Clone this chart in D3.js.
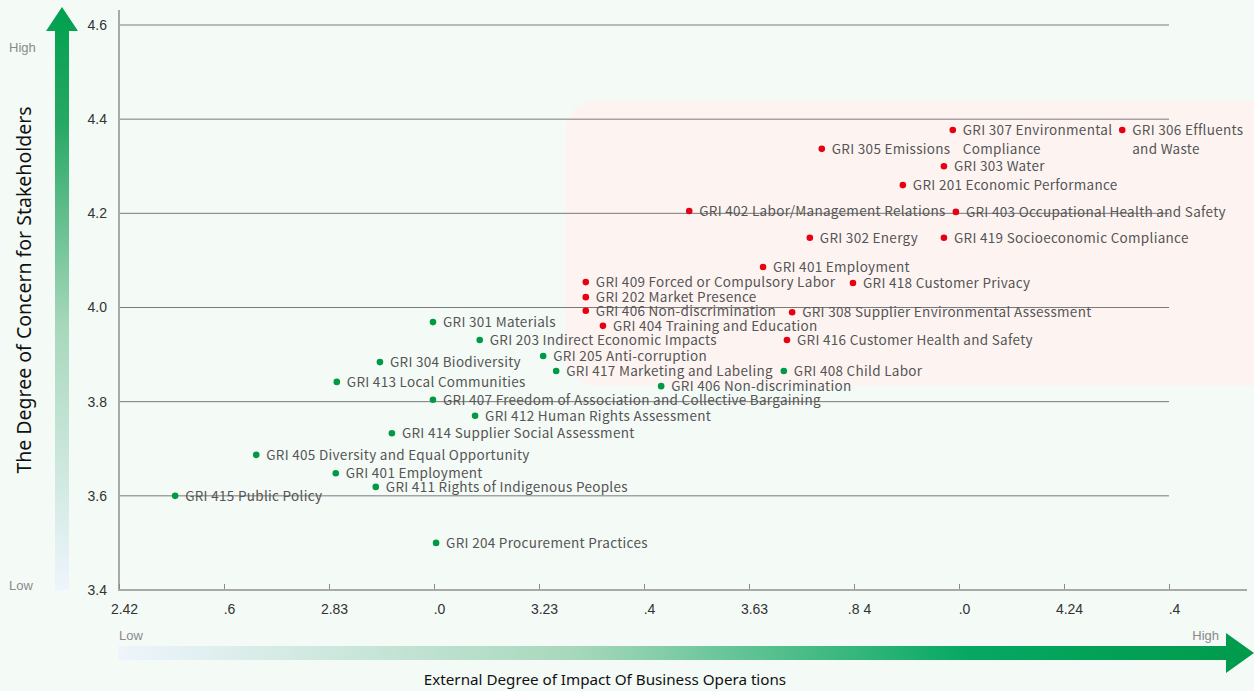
<!DOCTYPE html>
<html>
<head>
<meta charset="utf-8">
<script src="https://cdn.jsdelivr.net/npm/d3@7"></script>
<style>
  html, body { margin: 0; padding: 0; background: #f4faf6; }
  svg { display: block; }
</style>
</head>
<body>
<div id="chart"></div>
<script>
// x tick labels as printed on the original (truncated)
const xTickValues = [2.42, 2.622, 2.824, 3.026, 3.228, 3.43, 3.632, 3.834, 4.036, 4.238, 4.44];
const xTickLabels = ["2.42", ".6", "2.83", ".0", "3.23", ".4", "3.63", ".8 4", ".0", "4.24", ".4"];
const yTickValues = [3.4, 3.6, 3.8, 4.0, 4.2, 4.4, 4.6];

// material topics (red) : [label lines, impact, concern]
const redLabels = [
  ["GRI 307 Environmental", "Compliance"], ["GRI 306 Effluents", "and Waste"], ["GRI 305 Emissions"],
  ["GRI 303 Water"], ["GRI 201 Economic Performance"], ["GRI 402 Labor/Management Relations"],
  ["GRI 403 Occupational Health and Safety"], ["GRI 302 Energy"], ["GRI 419 Socioeconomic Compliance"],
  ["GRI 401 Employment"], ["GRI 409 Forced or Compulsory Labor"], ["GRI 418 Customer Privacy"],
  ["GRI 202 Market Presence"], ["GRI 406 Non-discrimination"], ["GRI 308 Supplier Environmental Assessment"],
  ["GRI 404 Training and Education"], ["GRI 416 Customer Health and Safety"]
];
const redImpact = [4.024, 4.35, 3.772, 4.007, 3.928, 3.517, 4.03, 3.749, 4.007, 3.659, 3.318, 3.832, 3.318, 3.318, 3.715, 3.351, 3.705];
const redConcern = [4.377, 4.377, 4.337, 4.30, 4.26, 4.205, 4.203, 4.148, 4.148, 4.086, 4.054, 4.052, 4.022, 3.993, 3.99, 3.961, 3.931];

const greenLabels = [
  "GRI 301 Materials", "GRI 203 Indirect Economic Impacts", "GRI 205 Anti-corruption", "GRI 304 Biodiversity",
  "GRI 417 Marketing and Labeling", "GRI 408 Child Labor", "GRI 413 Local Communities", "GRI 406 Non-discrimination",
  "GRI 407 Freedom of Association and Collective Bargaining", "GRI 412 Human Rights Assessment",
  "GRI 414 Supplier Social Assessment", "GRI 405 Diversity and Equal Opportunity", "GRI 401 Employment",
  "GRI 411 Rights of Indigenous Peoples", "GRI 415 Public Policy", "GRI 204 Procurement Practices"
];
const greenImpact = [3.024, 3.114, 3.236, 2.922, 3.261, 3.699, 2.839, 3.463, 3.024, 3.105, 2.945, 2.684, 2.837, 2.914, 2.528, 3.03];
const greenConcern = [3.969, 3.931, 3.897, 3.884, 3.865, 3.865, 3.842, 3.833, 3.804, 3.770, 3.733, 3.687, 3.648, 3.619, 3.600, 3.50];

const width = 1254, height = 691;
const m = { left: 119, right: 1169, top: 25, bottom: 590 };

const svg = d3.select('#chart').append('svg')
  .attr('width', width).attr('height', height);

const defs = svg.append('defs');
const vGrad = defs.append('linearGradient').attr('id', 'vgrad')
  .attr('x1', 0).attr('y1', 1).attr('x2', 0).attr('y2', 0);
vGrad.append('stop').attr('offset', '0%').attr('stop-color', '#eef5fc');
vGrad.append('stop').attr('offset', '45%').attr('stop-color', '#a8d8bc');
vGrad.append('stop').attr('offset', '80%').attr('stop-color', '#27a864');
vGrad.append('stop').attr('offset', '100%').attr('stop-color', '#00a04e');
const hGrad = defs.append('linearGradient').attr('id', 'hgrad')
  .attr('x1', 0).attr('y1', 0).attr('x2', 1).attr('y2', 0);
hGrad.append('stop').attr('offset', '0%').attr('stop-color', '#eef5fc');
hGrad.append('stop').attr('offset', '40%').attr('stop-color', '#a8d8bc');
hGrad.append('stop').attr('offset', '75%').attr('stop-color', '#05a862');
hGrad.append('stop').attr('offset', '100%').attr('stop-color', '#009a4c');

const x = d3.scaleLinear().domain([2.42, 4.44]).range([m.left, m.right]);
const y = d3.scaleLinear().domain([3.4, 4.6]).range([m.bottom, m.top]);

// pink highlight zone
svg.append('rect')
  .attr('x', 565).attr('y', 100).attr('width', 720).attr('height', 286)
  .attr('rx', 32).attr('fill', '#fdf4f2');

// gridlines
svg.append('g').selectAll('line')
  .data(yTickValues.slice(1))
  .join('line')
    .attr('x1', m.left).attr('x2', m.right)
    .attr('y1', d => y(d)).attr('y2', d => y(d))
    .attr('stroke', '#7a7a7a').attr('stroke-width', 1);

// y axis
const yAxis = svg.append('g').attr('transform', `translate(${m.left},0)`)
  .call(d3.axisLeft(y).tickValues(yTickValues).tickFormat(d3.format('.1f')).tickSize(0).tickPadding(12));
yAxis.select('.domain').remove();
yAxis.selectAll('text').attr('font-family', 'Liberation Sans, Arial, sans-serif')
  .attr('font-size', 14).attr('fill', '#333');
svg.append('line').attr('x1', m.left).attr('x2', m.left).attr('y1', 10).attr('y2', m.bottom + 1)
  .attr('stroke', '#a9a9a9').attr('stroke-width', 2);

// x axis
const xAxis = svg.append('g').attr('transform', `translate(0,${m.bottom})`)
  .call(d3.axisBottom(x).tickValues(xTickValues)
    .tickFormat((d, i) => xTickLabels[i]).tickSize(-6).tickPadding(14));
xAxis.select('.domain').remove();
xAxis.selectAll('line').attr('stroke', '#888');
xAxis.selectAll('text').attr('font-family', 'Liberation Sans, Arial, sans-serif')
  .attr('font-size', 14).attr('fill', '#333').attr('dx', 5);
svg.append('line').attr('x1', m.left - 1).attr('x2', 1247).attr('y1', m.bottom).attr('y2', m.bottom)
  .attr('stroke', '#a9a9a9').attr('stroke-width', 2);

// vertical arrow
svg.append('path')
  .attr('d', 'M55,590 L55,31 L46,31 L62,7 L78,31 L69,31 L69,590 Z')
  .attr('fill', 'url(#vgrad)');
// horizontal arrow
svg.append('path')
  .attr('d', 'M118,646 L1226,646 L1226,633 L1254,653 L1226,673 L1226,660 L118,660 Z')
  .attr('fill', 'url(#hgrad)');

const small = { 'font-family': 'Liberation Sans, Arial, sans-serif', 'font-size': 13, fill: '#8a8a8a' };
const lab = (tx, ty, anchor, s) => {
  const t = svg.append('text').attr('x', tx).attr('y', ty).attr('text-anchor', anchor).text(s);
  Object.entries(small).forEach(([k, v]) => t.attr(k, v));
};
lab(9, 52, 'start', 'High');
lab(9, 590, 'start', 'Low');
lab(119, 640, 'start', 'Low');
lab(1219, 640, 'end', 'High');

// axis titles
svg.append('text')
  .attr('transform', 'translate(31,290) rotate(-90)')
  .attr('text-anchor', 'middle')
  .attr('font-family', 'Noto Sans, sans-serif').attr('font-size', 19.5).attr('fill', '#111')
  .text('The Degree of Concern for Stakeholders');
svg.append('text')
  .attr('x', 605).attr('y', 685)
  .attr('text-anchor', 'middle')
  .attr('font-family', 'Noto Sans, sans-serif').attr('font-size', 15.2).attr('fill', '#111')
  .text('External Degree of Impact Of Business Opera tions');

// points
const redData = redLabels.map((l, i) => ({ lines: l, vx: redImpact[i], vy: redConcern[i], color: '#e60012' }));
const greenData = greenLabels.map((l, i) => ({ lines: [l], vx: greenImpact[i], vy: greenConcern[i], color: '#009a44' }));
const pts = svg.append('g').selectAll('g')
  .data(redData.concat(greenData))
  .join('g')
    .attr('transform', d => `translate(${x(d.vx)},${y(d.vy)})`);
pts.append('circle').attr('r', 3.3).attr('fill', d => d.color);
pts.append('text')
  .attr('x', 10).attr('y', 5)
  .attr('font-family', 'Noto Sans CJK KR, Noto Sans, sans-serif')
  .attr('font-size', 13.5).attr('letter-spacing', 0.3).attr('fill', '#555')
  .selectAll('tspan')
  .data(d => d.lines)
  .join('tspan')
    .attr('x', 10)
    .attr('dy', (d, i) => i === 0 ? 0 : 19)
    .text(d => d);
</script>
</body>
</html>
